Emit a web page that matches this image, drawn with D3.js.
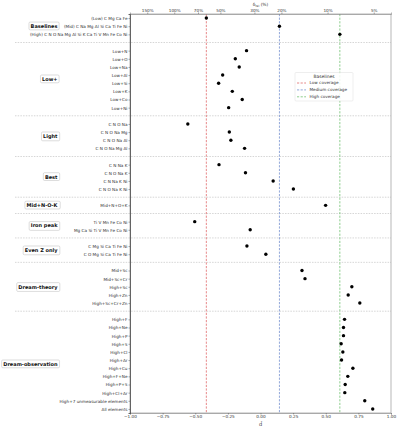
<!DOCTYPE html>
<html>
<head>
<meta charset="utf-8">
<script src="https://cdn.jsdelivr.net/npm/d3@7"></script>
<style>
	body { margin: 0; background: #fff; }
	text { font-family: "DejaVu Sans", sans-serif; }
</style>
</head>
<body>
<div id="chart"></div>
<script>
// group names, in order from top to bottom
const groupNames = [
	"Baselines",
	"Low+",
	"Light",
	"Best",
	"Mid+N-O-K",
	"Iron peak",
	"Even Z only",
	"Dream-theory",
	"Dream-observation",
];

// row labels per group
const groupLabels = [
	[
		"(Low) C Mg Ca Fe",
		"(Mid) C Na Mg Al Si Ca Ti Fe Ni",
		"(High) C N O Na Mg Al Si K Ca Ti V Mn Fe Co Ni",
	],
	["Low+N", "Low+O", "Low+Na", "Low+Al", "Low+Si", "Low+K", "Low+Co", "Low+Ni"],
	["C N O Na", "C N O Na Mg", "C N O Na Al", "C N O Na Mg Al"],
	["C N Na K", "C N O Na K", "C N Na K Ni", "C N O Na K Ni"],
	["Mid+N+O+K"],
	["Ti V Mn Fe Co Ni", "Mg Ca Si Ti V Mn Fe Co Ni"],
	["C Mg Si Ca Ti Fe Ni", "C O Mg Si Ca Ti Fe Ni"],
	["Mid+Sc", "Mid+Sc+Cr", "High+Sc", "High+Zn", "High+Sc+Cr+Zn"],
	[
		"High+F", "High+Ne", "High+P", "High+S", "High+Cl", "High+Ar",
		"High+Cu", "High+F+Ne", "High+P+S", "High+Cl+Ar",
		"High+7 unmeasurable elements", "All elements",
	],
];

// d-hat values per group
const groupValues = [
	[-0.415, 0.145, 0.608],
	[-0.107, -0.193, -0.163, -0.29, -0.321, -0.216, -0.14, -0.244],
	[-0.557, -0.239, -0.227, -0.122],
	[-0.318, -0.115, 0.097, 0.252],
	[0.499],
	[-0.504, -0.079],
	[-0.104, 0.041],
	[0.318, 0.341, 0.7, 0.672, 0.761],
	[0.644, 0.636, 0.636, 0.618, 0.631, 0.621, 0.708, 0.669, 0.649, 0.646, 0.799, 0.86],
];

// baseline reference lines
const baselineNames = ["Low coverage", "Medium coverage", "High coverage"];
const baselineValues = [-0.415, 0.145, 0.608];
const baselineColors = ["#e0696b", "#7590cf", "#72c372"];

// axes ticks
const xTicks = [-1, -0.75, -0.5, -0.25, 0, 0.25, 0.5, 0.75, 1];
const topTicks = [150, 100, 70, 50, 30, 20, 10, 5];

const width = 400;
const height = 429;
const margin = { top: 14, right: 9, bottom: 16, left: 130 };

// flatten the groups into rows, leaving one blank slot between groups
const rows = [];
const groups = [];
const gaps = [];
let pos = 0;
groupNames.forEach((name, gi) => {
	if (gi > 0) {
		gaps.push(pos);
		pos += 1;
	}
	const start = pos;
	groupLabels[gi].forEach((label, i) => {
		rows.push({ label, value: groupValues[gi][i], pos });
		pos += 1;
	});
	groups.push({ name, mid: (start + pos - 1) / 2 });
});
const nPos = pos;

const svg = d3
	.select("#chart")
	.append("svg")
	.attr("width", width)
	.attr("height", height);

const x = d3
	.scaleLinear()
	.domain([-1, 1])
	.range([margin.left, width - margin.right]);

const y = d3
	.scaleLinear()
	.domain([-0.5, nPos - 0.5])
	.range([margin.top, height - margin.bottom]);

// top axis: d = -0.661 - 1.175 * log10(delta)
const deltaAt = (d) => 100 * Math.pow(10, (-0.661 - d) / 1.175);
const xTop = d3
	.scaleLog()
	.domain([deltaAt(-1), deltaAt(1)])
	.range([margin.left, width - margin.right]);

// group separators
svg.append("g")
	.selectAll("line")
	.data(gaps)
	.enter()
	.append("line")
	.attr("x1", 15)
	.attr("x2", width - margin.right)
	.attr("y1", (d) => y(d))
	.attr("y2", (d) => y(d))
	.attr("stroke", "#bbbbbb")
	.attr("stroke-width", 0.6)
	.attr("stroke-dasharray", "1.5,1.2");

// baseline lines
svg.append("g")
	.selectAll("line")
	.data(baselineValues)
	.enter()
	.append("line")
	.attr("x1", (d) => x(d))
	.attr("x2", (d) => x(d))
	.attr("y1", margin.top)
	.attr("y2", height - margin.bottom)
	.attr("stroke", (d, i) => baselineColors[i])
	.attr("stroke-width", 0.8)
	.attr("stroke-dasharray", "2.2,1.4");

// points
svg.append("g")
	.selectAll("circle")
	.data(rows)
	.enter()
	.append("circle")
	.attr("cx", (d) => x(d.value))
	.attr("cy", (d) => y(d.pos))
	.attr("r", 1.7)
	.attr("fill", "#000");

// frame
svg.append("rect")
	.attr("x", margin.left)
	.attr("y", margin.top)
	.attr("width", width - margin.left - margin.right)
	.attr("height", height - margin.top - margin.bottom)
	.attr("fill", "none")
	.attr("stroke", "#888")
	.attr("stroke-width", 0.6);

// bottom axis
const xAxis = svg
	.append("g")
	.attr("transform", `translate(0, ${height - margin.bottom})`)
	.call(
		d3.axisBottom(x)
			.tickValues(xTicks)
			.tickSize(1.5)
			.tickPadding(1)
			.tickFormat((d) => d3.format(".2f")(d).replace("-", "\u2212"))
	);

// top axis
const topAxis = svg
	.append("g")
	.attr("transform", `translate(0, ${margin.top})`)
	.call(
		d3.axisTop(xTop)
			.tickValues(topTicks)
			.tickSize(1.5)
			.tickPadding(1)
			.tickFormat((d) => d + "%")
	);

// left axis with row labels
const yAxis = svg
	.append("g")
	.attr("transform", `translate(${margin.left}, 0)`)
	.call(
		d3.axisLeft(y)
			.tickValues(rows.map((d) => d.pos))
			.tickSize(1.5)
			.tickPadding(1)
			.tickFormat((d, i) => rows[i].label)
	);

[xAxis, topAxis, yAxis].forEach((ax) => {
	ax.select(".domain").attr("stroke", "#555").attr("stroke-width", 0.6);
	ax.selectAll(".tick line").attr("stroke", "#555").attr("stroke-width", 0.5);
	ax.selectAll(".tick text")
		.attr("fill", "#333")
		.style("font-size", "4.2px")
		.style("font-family", "DejaVu Sans, sans-serif");
});
xAxis.select(".domain").attr("stroke", "#888");
topAxis.select(".domain").attr("stroke", "#888");
yAxis.select(".domain").attr("stroke", "#444").attr("stroke-width", 0.8);

// axis titles
svg.append("text")
	.attr("x", x(0))
	.attr("y", height - 3.5)
	.attr("text-anchor", "middle")
	.style("font-size", "5px")
	.attr("fill", "#333")
	.text("d\u0302");

const topTitle = svg
	.append("text")
	.attr("x", x(0))
	.attr("y", 6)
	.attr("text-anchor", "middle")
	.style("font-size", "4.4px")
	.attr("fill", "#333");
topTitle.append("tspan").text("\u03b4");
topTitle.append("tspan").attr("dy", 1).style("font-size", "3px").text("rel");
topTitle.append("tspan").attr("dy", -1).text(" (%)");

// group labels in boxes
const groupLabel = svg
	.append("g")
	.selectAll("g")
	.data(groups)
	.enter()
	.append("g")
	.attr("transform", (d) => `translate(57.5, ${y(d.mid)})`);

groupLabel
	.append("text")
	.attr("text-anchor", "end")
	.attr("dy", "0.35em")
	.style("font-size", "5px")
	.style("font-weight", "bold")
	.attr("fill", "#111")
	.text((d) => d.name);

groupLabel.each(function () {
	const g = d3.select(this);
	const bb = g.select("text").node().getBBox();
	g.insert("rect", "text")
		.attr("x", bb.x - 1.6)
		.attr("y", bb.y - 0.9)
		.attr("width", bb.width + 3.2)
		.attr("height", bb.height + 1.8)
		.attr("rx", 1.2)
		.attr("fill", "#fff")
		.attr("stroke", "#bbb")
		.attr("stroke-width", 0.5);
});

// legend
const legend = svg.append("g").attr("transform", "translate(295, 72.5)");

legend
	.append("rect")
	.attr("width", 58)
	.attr("height", 28.5)
	.attr("rx", 1)
	.attr("fill", "#fff")
	.attr("fill-opacity", 0.85)
	.attr("stroke", "#ddd")
	.attr("stroke-width", 0.5);

legend
	.append("text")
	.attr("x", 29)
	.attr("y", 5.3)
	.attr("text-anchor", "middle")
	.style("font-size", "4.4px")
	.attr("fill", "#333")
	.text("Baselines");

const legendItem = legend
	.selectAll("g")
	.data(baselineNames)
	.enter()
	.append("g")
	.attr("transform", (d, i) => `translate(0, ${10.5 + i * 6.9})`);

legendItem
	.append("line")
	.attr("x1", 2)
	.attr("x2", 11)
	.attr("stroke", (d, i) => baselineColors[i])
	.attr("stroke-width", 0.8)
	.attr("stroke-dasharray", "2.2,1.4");

legendItem
	.append("text")
	.attr("x", 14.5)
	.attr("dy", "0.35em")
	.style("font-size", "4.2px")
	.attr("fill", "#333")
	.text((d) => d);
</script>
</body>
</html>
